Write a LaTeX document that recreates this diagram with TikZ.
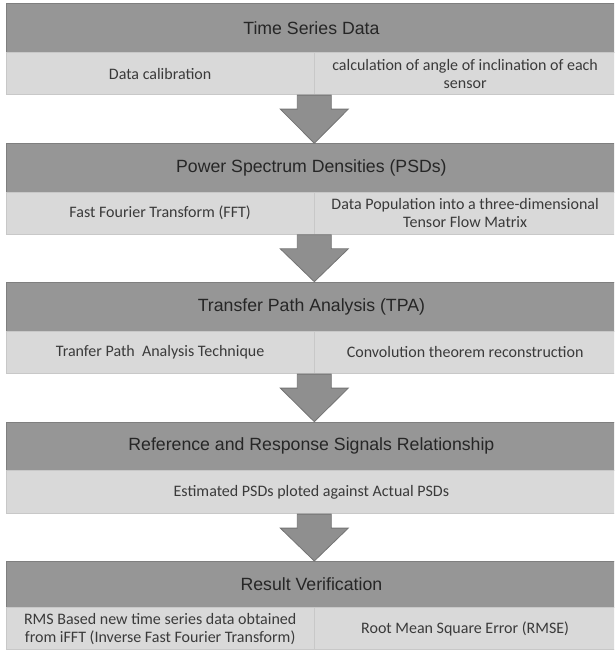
\documentclass[tikz,border=0pt]{standalone}
\usepackage{fontspec}
\setmainfont{Carlito}
\newfontfamily\hfont{Liberation Sans}
\usetikzlibrary{calc}
\definecolor{hdrgray}{HTML}{969696}
\definecolor{subgray}{HTML}{D9D9D9}
\definecolor{hdrline}{HTML}{7F7F7F}
\definecolor{subline}{HTML}{C8C8C8}
\definecolor{arrfill}{HTML}{8F8F8F}
\definecolor{arrline}{HTML}{747474}
\definecolor{hdrtext}{HTML}{262626}
\definecolor{subtext}{HTML}{3A3A3A}
\newcommand{\blkarrow}[2]{%
  \draw[blockarr] ($(#1)+(-17,0)$) -- ($(#1)+(17,0)$) -- ($(#1)+(17,14)$) -- ($(#1)+(34,14)$) -- (#2) -- ($(#1)+(-34,14)$) -- ($(#1)+(-17,14)$) -- cycle;}
\begin{document}
\begin{tikzpicture}[x=1pt,y=-1pt,
  hdr/.style={draw=hdrline, fill=hdrgray, line width=0.8pt, minimum width=610pt, anchor=north west, inner sep=0pt,
    font=\hfont\fontsize{17.7}{20}\selectfont, text=hdrtext},
  subcell/.style={draw=subline, fill=subgray, line width=0.8pt, anchor=north west, inner sep=0pt, align=center,
    font=\fontsize{16}{18}\selectfont, text=subtext},
  lcell/.style={subcell, minimum width=307.5pt},
  rcell/.style={subcell, minimum width=302.5pt},
  fcell/.style={subcell, minimum width=610pt},
  blockarr/.style={fill=arrfill, draw=arrline, line width=0.8pt, line join=miter}
]
\useasboundingbox (0,0) rectangle (614,651);
\begin{scope}
\clip (0,0) rectangle (614,651);
% Box 1
\node[hdr, minimum height=49pt] (h1) at (6,3.3) {Time Series Data};
\node[lcell, minimum height=42pt] (l1) at (6,52.3) {Data calibration};
\node[rcell, minimum height=42pt] (r1) at (313.5,52.3) {calculation of angle of inclination of each\\sensor};
% Box 2
\node[hdr, minimum height=48.4pt] (h2) at (6,143.3) {Power Spectrum Densities (PSDs)};
\node[lcell, minimum height=42.3pt] (l2) at (6,191.7) {Fast Fourier Transform (FFT)};
\node[rcell, minimum height=42.3pt] (r2) at (313.5,191.7) {Data Population into a three-dimensional\\Tensor Flow Matrix};
% Box 3
\node[hdr, minimum height=49pt] (h3) at (6,281.7) {Transfer Path Analysis (TPA)};
\node[lcell, minimum height=42.6pt] (l3) at (6,330.7) {Tranfer Path\ \ Analysis Technique};
\node[rcell, minimum height=42.6pt] (r3) at (313.5,330.7) {Convolution theorem reconstruction};
% Box 4
\node[hdr, minimum height=48.3pt] (h4) at (6,421.7) {Reference and Response Signals Relationship};
\node[fcell, minimum height=43.3pt] (f4) at (6,470) {Estimated PSDs ploted against Actual PSDs};
% Box 5
\node[hdr, minimum height=46pt] (h5) at (6,561) {Result Verification};
\node[lcell, minimum height=42.3pt] (l5) at (6,607) {RMS Based new time series data obtained\\from iFFT (Inverse Fast Fourier Transform)};
\node[rcell, minimum height=42.3pt] (r5) at (313.5,607) {Root Mean Square Error (RMSE)};
% Arrows
\coordinate (t1) at (l1.south east);
\coordinate (p1) at (h2.north -| t1);
\blkarrow{t1}{p1}
\coordinate (t2) at (l2.south east);
\coordinate (p2) at (h3.north -| t2);
\blkarrow{t2}{p2}
\coordinate (t3) at (l3.south east);
\coordinate (p3) at (h4.north -| t3);
\blkarrow{t3}{p3}
\coordinate (t4) at (f4.south -| l3.south east);
\coordinate (p4) at (h5.north -| t4);
\blkarrow{t4}{p4}
\end{scope}
\end{tikzpicture}
\end{document}
